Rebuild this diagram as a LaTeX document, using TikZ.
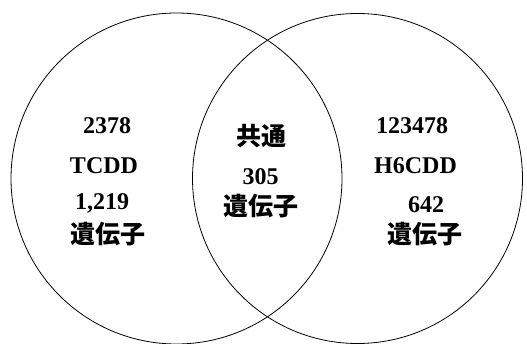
\documentclass[tikz,border=0pt]{standalone}
\usepackage{fontspec}
\setmainfont{Liberation Serif}
\newfontfamily\jp{Noto Sans CJK JP}
\begin{document}
\begin{tikzpicture}[x=1pt,y=-1pt,
  lat/.style={font=\fontsize{24}{24}\selectfont\bfseries, inner sep=0pt, anchor=base},
  cjk/.style={font=\fontsize{25}{25}\selectfont\jp\bfseries, inner sep=0pt, anchor=center},
  ring/.style={draw=black, line width=0.8pt}]
\useasboundingbox (0,0) rectangle (527,343);
\node[ring, circle, minimum size=331pt, inner sep=0pt] (L) at (176.5,178.5) {};
\node[ring, circle, minimum size=330pt, inner sep=0pt] (R) at (357.5,178.5) {};
% left
\node[lat] (l1) at (107,133) {2378};
\node[lat] (l2) at (104,173) {TCDD};
\node[lat] (l3) at (102,209) {1,219};
\node[cjk] (l4) at (108,234) {遺伝子};
% center
\node[cjk] (c1) at (261,136) {共通};
\node[lat] (c2) at (260.5,184) {305};
\node[cjk] (c3) at (261,206) {遺伝子};
% right
\node[lat] (r1) at (412,133) {123478};
\node[lat] (r2) at (415.5,173) {H6CDD};
\node[lat] (r3) at (426,212) {642};
\node[cjk] (r4) at (425,234) {遺伝子};
\end{tikzpicture}
\end{document}
